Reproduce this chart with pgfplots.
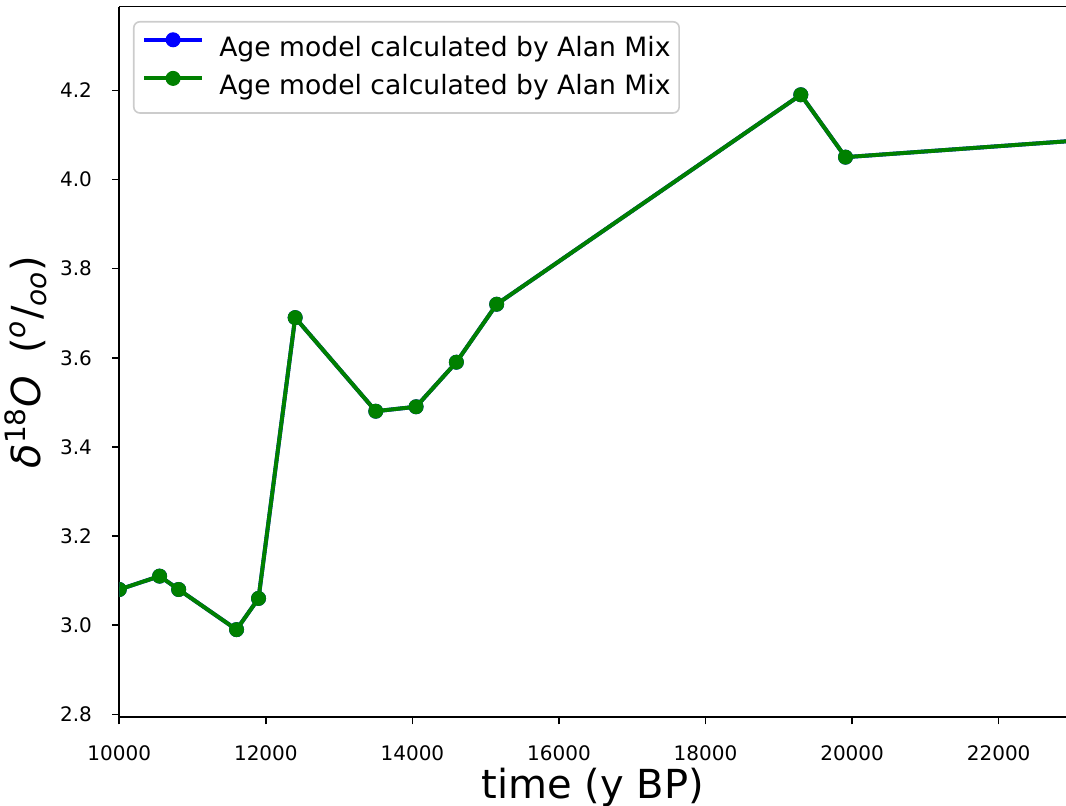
\documentclass[border=0pt]{standalone}
\usepackage{fontspec}
\setmainfont{DejaVu Sans}
\usepackage{pgfplots}
\usepackage{pgfplotstable}
\pgfplotsset{compat=1.18}
\definecolor{mplgreen}{rgb}{0,0.50196,0}
\definecolor{mplblue}{rgb}{0,0,1}
\pgfplotstableread{
x y
10000 3.08
10550 3.11
10810 3.08
11600 2.99
11900 3.06
12400 3.69
13500 3.48
14050 3.49
14600 3.59
15150 3.72
19300 4.19
19910 4.05
25000 4.11
}\mixdata
\begin{document}
\begin{tikzpicture}
\begin{axis}[
  scale only axis, width=473.35pt, height=355.3pt,
  xmin=10000, xmax=22919, ymin=2.7933, ymax=4.3876,
  axis x line*=bottom, axis y line*=left,
  axis line style={line width=0.8pt, black},
  xtick={10000,12000,14000,16000,18000,20000,22000},
  ytick={2.8,3.0,3.2,3.4,3.6,3.8,4.0,4.2},
  scaled x ticks=false,
  tick align=outside, major tick length=3.5pt,
  every tick/.style={black, line width=0.8pt},
  /pgf/number format/assume math mode=true,
  xticklabel style={font=\fontsize{10}{12}\selectfont, anchor=base, inner sep=0pt, yshift=-18pt, /pgf/number format/.cd, set thousands separator={}},
  yticklabel style={font=\fontsize{10}{12}\selectfont, anchor=east, inner sep=0pt, xshift=-10pt, /pgf/number format/.cd, fixed, fixed zerofill, precision=1},
  every axis y label/.style={at={(rel axis cs:0,0.5)}, xshift=-46.8pt, rotate=90, anchor=center, font=\fontsize{20}{24}\selectfont},
  every axis x label/.style={at={(rel axis cs:0.5,0)}, yshift=-40.5pt, anchor=base, font=\fontsize{20}{24}\selectfont},
  xlabel={time (y BP)},
  ylabel={{\itshape δ}\textsuperscript{18}{\itshape O}\hspace{0.55em}(\textsuperscript{\itshape o}/\textsubscript{\itshape oo})},
  clip marker paths=true,
  legend cell align=left,
  legend style={at={(rel axis cs:0,1)}, anchor=north west, xshift=6.85pt, yshift=-7.15pt,
    draw=black!20, line width=0.8pt, rounded corners=3pt, fill=white, fill opacity=0.8, text opacity=1,
    font=\fontsize{13.3}{16}\selectfont, inner xsep=4.35pt, inner ysep=5.5pt,
    nodes={inner sep=0pt, text height=10.5pt, text depth=3.5pt},
    row sep=4pt, column sep=7.8pt},
  legend image code/.code={\draw[#1, opacity=1, fill opacity=1, draw opacity=1, mark repeat=2, mark phase=2] plot coordinates {(0pt,4.8pt) (14.3pt,4.8pt) (28.6pt,4.8pt)};},
]
\addplot[mplblue, line width=2pt, mark=*, mark size=3.5pt, mark options={solid, fill=mplblue, draw=mplblue, line width=0.5pt, fill opacity=1, draw opacity=1}] table[x=x, y=y] {\mixdata};
\addlegendentry{Age model calculated by Alan Mix}
\addplot[mplgreen, line width=2pt, mark=*, mark size=3.5pt, mark options={solid, fill=mplgreen, draw=mplgreen, line width=0.5pt, fill opacity=1, draw opacity=1}] table[x=x, y=y] {\mixdata};
\addlegendentry{Age model calculated by Alan Mix}
\coordinate (bl) at (rel axis cs:0,0);
\coordinate (tl) at (rel axis cs:0,1);
\coordinate (tr) at (rel axis cs:1,1);
\end{axis}
\draw[line width=0.8pt, black] (tl) -- (tr);
\pgfresetboundingbox
\path ([shift={(-59.65pt,-44.35pt)}]bl) rectangle ([shift={(0pt,3.35pt)}]tr);
\end{tikzpicture}
\end{document}
